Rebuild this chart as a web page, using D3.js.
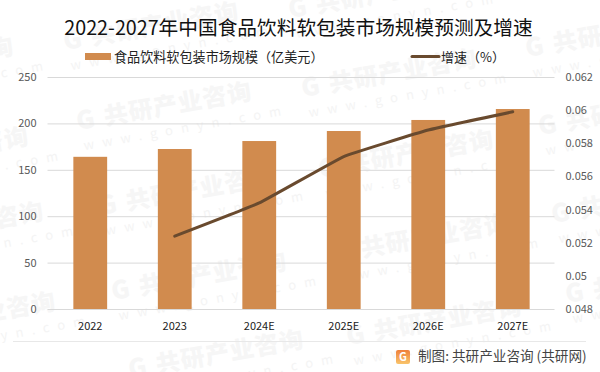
<!DOCTYPE html>
<html><head><meta charset="utf-8">
<script src="https://cdn.jsdelivr.net/npm/d3@7"></script>
<style>html,body{margin:0;padding:0;background:#fff}svg{display:block}text{font-family:"Noto Sans CJK SC","Noto Sans",sans-serif}</style>
</head><body><svg id="c" width="600" height="372"></svg>
<script>
const categories=["2022","2023","2024E","2025E","2026E","2027E"];
const marketSize=[164,172.4,181,191.8,203.7,215.5];
const growth=[null,0.0524,0.0544,0.0572,0.0588,0.0599];
const leftTicks=[0,50,100,150,200,250];
const rightTicks=[0.048,0.05,0.052,0.054,0.056,0.058,0.06,0.062];
const titleText="2022-2027年中国食品饮料软包装市场规模预测及增速";
const barLabel="食品饮料软包装市场规模（亿美元）";
const lineLabel="增速（%）";
const sourceText="制图: 共研产业咨询 (共研网)";
const wmOrigins=[[65,50],[78,130],[100,215],[113,300],[130,378],[-160,85],[-145,175],[-130,250],[-118,340],[290,18],[303,97],[320,178],[335,262],[348,345],[527,57],[540,135],[553,223],[567,303]];

const svg=d3.select("#c");
const W={l:47.5,r:554.5,t:77,b:309};
const x=d3.scaleBand().domain(categories).range([W.l+0.5,W.r+0.5]).paddingInner(0.6).paddingOuter(0.3);
const y=d3.scaleLinear().domain([0,250]).range([W.b,W.t]);
const y2=d3.scaleLinear().domain([0.048,0.062]).range([W.b,W.t]);

// watermark
const wm=svg.append("g").attr("id","wm");
wmOrigins.forEach(o=>{
  const g=wm.append("g").attr("transform",`translate(${o[0]},${o[1]}) rotate(-10)`);
  g.append("text").attr("x",0).attr("y",0).attr("font-size",25).attr("font-weight",900).attr("fill","#f6f6f6").text("G");
  g.append("text").attr("x",28).attr("y",0).attr("font-size",24).attr("font-weight",900).attr("fill","#f6f6f6").attr("letter-spacing",1).text("共研产业咨询");
  g.append("text").attr("x",3).attr("y",21).attr("font-size",13).attr("fill","#f4f4f4").attr("letter-spacing",8.2).text("www.gonyn.com");
});

// grid
svg.append("g").call(d3.axisLeft(y).tickValues(leftTicks).tickSize(-(W.r-W.l)).tickFormat(""))
 .attr("transform",`translate(${W.l},0)`)
 .call(g=>g.select(".domain").remove())
 .selectAll("line").attr("stroke","#d9d9d9").attr("stroke-width",1);

// bars
svg.append("g").selectAll("rect").data(marketSize).join("rect")
 .attr("x",(d,i)=>x(categories[i])).attr("width",x.bandwidth())
 .attr("y",d=>y(d)).attr("height",d=>W.b-y(d)).attr("fill","#d18b4e");

// line
const pts=growth.map((v,i)=>({c:categories[i],v})).filter(d=>d.v!==null);
svg.append("path").datum(pts)
 .attr("d",d3.line().x(d=>x(d.c)+x.bandwidth()/2).y(d=>y2(d.v)).curve(d3.curveCardinal.tension(0.75)))
 .attr("fill","none").attr("stroke","#694a2e").attr("stroke-width",3).attr("stroke-linecap","round");

// axes labels
const yl=d3.axisLeft(y).tickValues(leftTicks).tickSize(0).tickPadding(11);
svg.append("g").attr("transform",`translate(${W.l},0)`).call(yl)
 .call(g=>g.select(".domain").remove())
 .selectAll("text").attr("font-size",11).attr("fill","#595959").attr("font-family","'Open Sans',sans-serif").attr("dy","0.32em");
const yr=d3.axisRight(y2).tickValues(rightTicks).tickSize(0).tickPadding(11).tickFormat(d=>String(+d.toFixed(3)));
svg.append("g").attr("transform",`translate(${W.r},0)`).call(yr)
 .call(g=>g.select(".domain").remove())
 .selectAll("text").attr("font-size",11).attr("fill","#595959").attr("font-family","'Open Sans',sans-serif").attr("dy","0.32em");
const xa=d3.axisBottom(x).tickSize(0).tickPadding(13);
svg.append("g").attr("transform",`translate(0,${W.b})`).call(xa)
 .call(g=>g.select(".domain").remove())
 .selectAll("text").attr("font-size",11).attr("fill","#222").attr("font-family","'Open Sans',sans-serif");

// title & legend
svg.append("text").attr("x",298.5).attr("y",35).attr("text-anchor","middle").attr("font-size",19.7).attr("fill","#111").text(titleText);
svg.append("rect").attr("x",85).attr("y",53).attr("width",26).attr("height",7).attr("fill","#d18b4e");
svg.append("text").attr("x",114).attr("y",62).attr("font-size",13.1).attr("fill","#222").text(barLabel);
svg.append("line").attr("x1",412).attr("x2",439).attr("y1",56.5).attr("y2",56.5).attr("stroke","#694a2e").attr("stroke-width",3).attr("stroke-linecap","round");
svg.append("text").attr("x",441).attr("y",62).attr("font-size",13).attr("fill","#222").text(lineLabel);

// footer
svg.append("line").attr("x1",13).attr("x2",586).attr("y1",341.5).attr("y2",341.5).attr("stroke","#e8e8e8");
const defs=svg.append("defs");
const lg=defs.append("linearGradient").attr("id","lg").attr("x1",0).attr("y1",0).attr("x2",0).attr("y2",1);
lg.append("stop").attr("offset",0).attr("stop-color","#ef7f3a");
lg.append("stop").attr("offset",1).attr("stop-color","#f9c46b");
svg.append("rect").attr("x",396).attr("y",350).attr("width",14).attr("height",14).attr("rx",2).attr("fill","url(#lg)");
svg.append("text").attr("x",399).attr("y",361).attr("font-size",11).attr("font-weight",700).attr("fill","#fff").text("G");
svg.append("text").attr("x",418).attr("y",361).attr("font-size",13.6).attr("fill","#444").text(sourceText);
</script></body></html>
